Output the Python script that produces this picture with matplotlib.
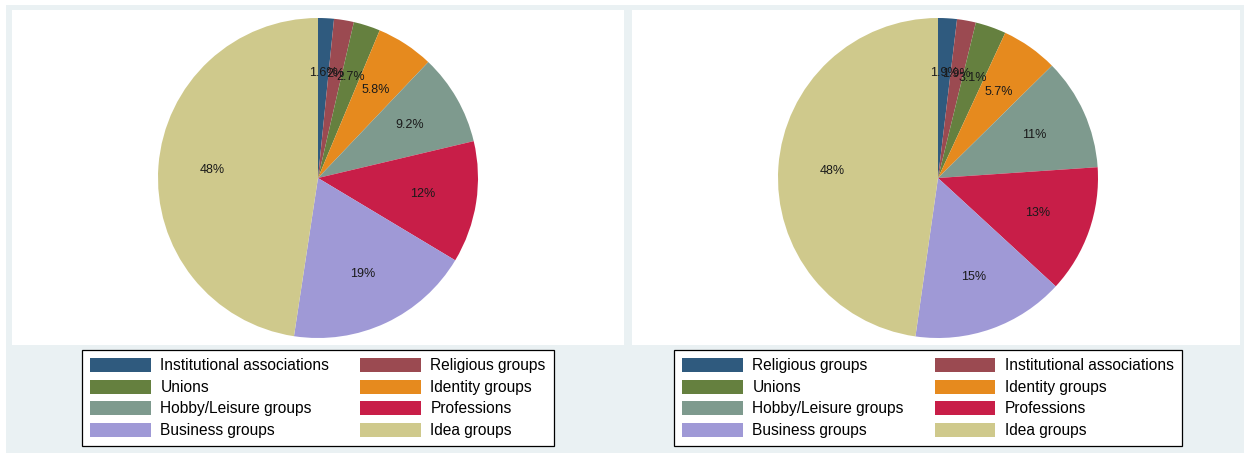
import numpy as np
import matplotlib.pyplot as plt
from matplotlib.patches import Rectangle, Patch

plt.rcParams['font.family'] = ['Liberation Sans', 'DejaVu Sans']

# left panel
left_labels = ['Institutional associations', 'Religious groups', 'Unions', 'Identity groups',
               'Hobby/Leisure groups', 'Professions', 'Business groups', 'Idea groups']
left_values = [1.6, 2.0, 2.7, 5.8, 9.2, 12.3, 18.8, 47.6]

# right panel
right_labels = ['Religious groups', 'Institutional associations', 'Unions', 'Identity groups',
                'Hobby/Leisure groups', 'Professions', 'Business groups', 'Idea groups']
right_values = [1.9, 1.9, 3.1, 5.7, 11.3, 12.9, 15.4, 47.7]

colors = ['#2F5A7E', '#9B4A51', '#65803F', '#E68A1E',
          '#7E9A8E', '#C81E48', '#9F99D6', '#CFC98C']

W, H = 1244, 453
fig = plt.figure(figsize=(W / 100, H / 100), dpi=100)
fig.patch.set_facecolor('white')
fig.patches.append(Rectangle((6 / W, 0), 1 - 6 / W, (H - 5) / H, transform=fig.transFigure,
                             facecolor='#EAF1F3', edgecolor='none', zorder=-5))


def px_axes(x0, y0, x1, y1):
    # pixel box measured from top-left
    return fig.add_axes([x0 / W, (H - y1) / H, (x1 - x0) / W, (y1 - y0) / H])


def fmt(p):
    return '%.2g%%' % p


def panel(x0, x1, cx, values, labels, lx):
    bg = px_axes(x0, 10, x1, 345)
    bg.set_facecolor('white')
    bg.set_xticks([])
    bg.set_yticks([])
    for s in bg.spines.values():
        s.set_visible(False)

    r = 160
    ax = px_axes(cx - r, 178 - r, cx + r, 178 + r)
    ax.pie(values, colors=colors, startangle=90, counterclock=False,
           autopct=fmt, pctdistance=0.66,
           wedgeprops=dict(linewidth=0),
           textprops=dict(fontsize=9, color='#1a1a1a'))
    ax.set_xlim(-1, 1)
    ax.set_ylim(-1, 1)

    handles = [Patch(facecolor=c, edgecolor='none') for c in colors]
    order = [0, 2, 4, 6, 1, 3, 5, 7]
    leg = fig.legend([handles[i] for i in order], [labels[i] for i in order],
                     ncol=2, loc='center', bbox_to_anchor=(lx / W, 55 / H),
                     frameon=True, fancybox=False, edgecolor='black',
                     facecolor='white', framealpha=1,
                     fontsize=11.2, handlelength=3.9, handleheight=1.0,
                     handletextpad=0.6, columnspacing=2.0, labelspacing=0.4,
                     borderpad=0.55, borderaxespad=0)
    leg.get_frame().set_linewidth(0.9)


panel(12, 624, 318, left_values, left_labels, 318)
panel(632, 1240, 938, right_values, right_labels, 928)

fig.savefig('out.png', dpi=100, facecolor=fig.get_facecolor())
